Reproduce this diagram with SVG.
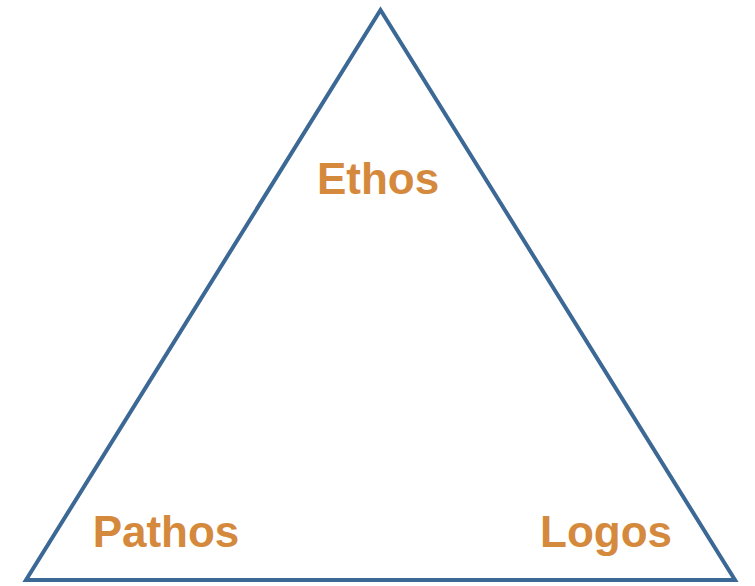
<svg xmlns="http://www.w3.org/2000/svg" width="755" height="586" viewBox="0 0 755 586">
<style>
.lbl{font-family:"Liberation Sans",Arial,sans-serif;font-weight:bold;font-size:44px;fill:#d4893d}
.tri{fill:none;stroke:#3b6894;stroke-width:4;stroke-linejoin:miter}
</style>
<rect width="755" height="586" fill="#ffffff"/>
<g id="connectors">
<polygon class="tri" points="380.5,10 26,580 735,580"/>
</g>
<g id="ethos"><text class="lbl" x="378" y="194" text-anchor="middle">Ethos</text></g>
<g id="pathos"><text class="lbl" x="166" y="547" text-anchor="middle">Pathos</text></g>
<g id="logos"><text class="lbl" x="606" y="547" text-anchor="middle">Logos</text></g>
</svg>
